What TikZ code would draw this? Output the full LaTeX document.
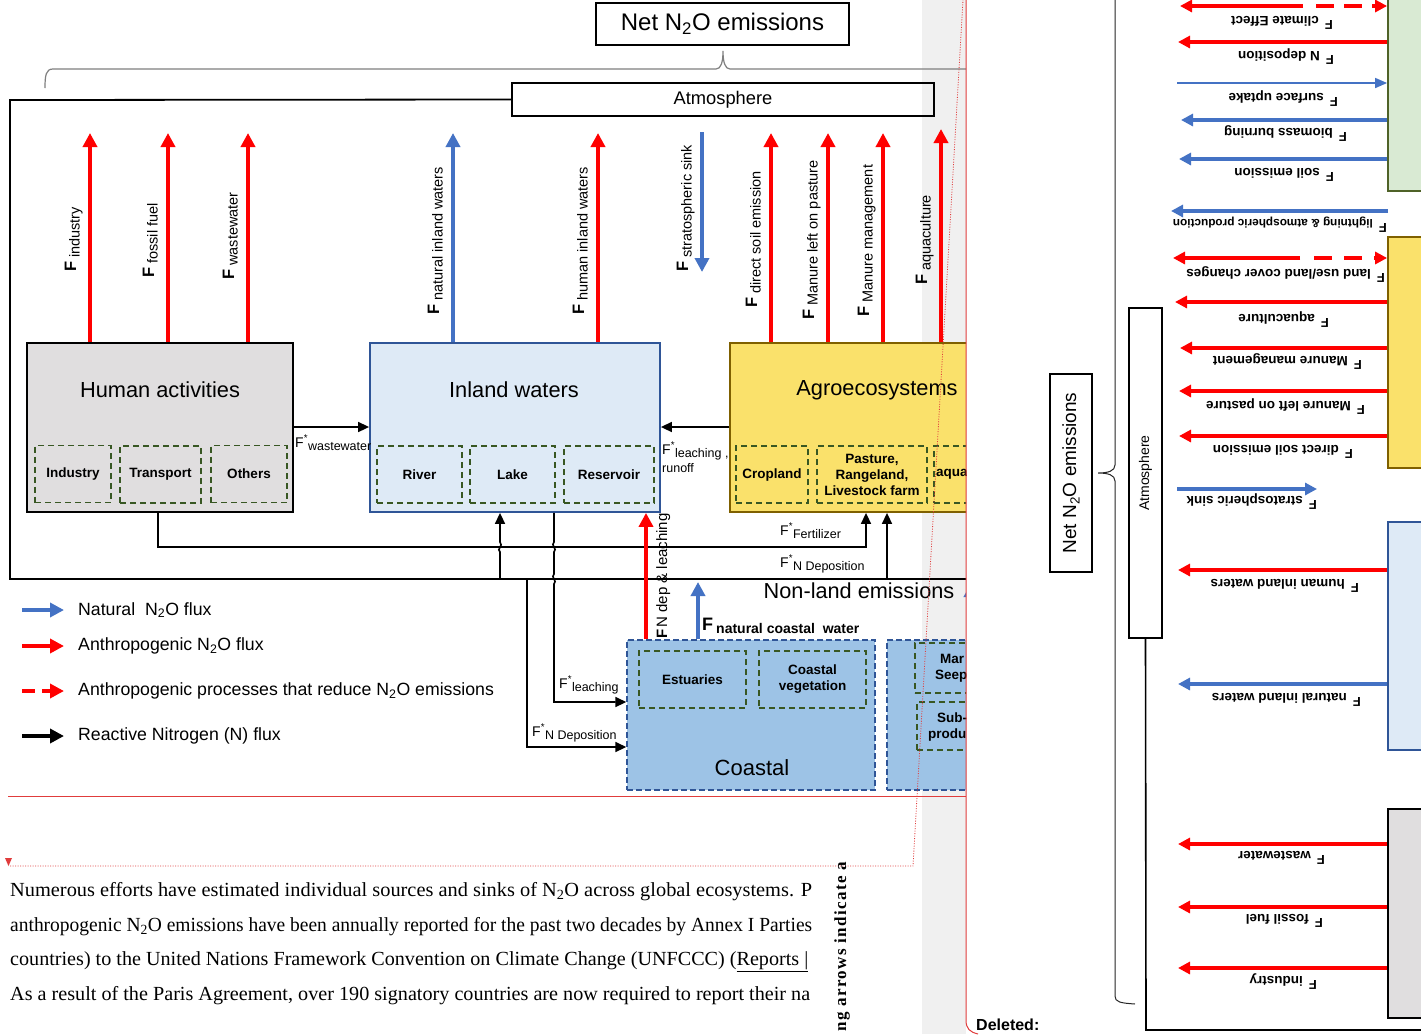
\documentclass[tikz,border=0pt]{standalone}
\usepackage{fontspec}
\setmainfont{Liberation Sans}
\newfontfamily\bodyserif{Liberation Serif}
\newfontfamily\spacedserif[LetterSpace=8]{Liberation Serif}
\usetikzlibrary{arrows.meta}
\definecolor{nred}{HTML}{FF0000}
\definecolor{nblue}{HTML}{4472C4}
\definecolor{inlandfill}{HTML}{DEEAF6}
\definecolor{inlandline}{HTML}{2F5597}
\definecolor{coastfill}{HTML}{9DC3E6}
\definecolor{agrofill}{HTML}{FAE16B}
\definecolor{agroline}{HTML}{7F6000}
\definecolor{humfill}{HTML}{E0DEDF}
\definecolor{subgreen}{HTML}{385723}
\definecolor{natfill}{HTML}{D9EAD3}
\definecolor{natline}{HTML}{4F6228}
\definecolor{bandgrey}{HTML}{F0F0F0}
\definecolor{bracegrey}{HTML}{7F7F7F}
\definecolor{trackred}{HTML}{E03C3C}
\newcommand{\fs}[2]{\fontsize{#1}{#2}\selectfont}
\newcommand{\topF}[1]{{\fs{16.5}{16.5}\bfseries F}\hspace{4pt}\raisebox{-3.5pt}{\fs{14.5}{15}#1}}
\newcommand{\rgtF}[1]{{\fs{13}{13}\bfseries F}\hspace{6pt}\raisebox{-4pt}{\fs{13.5}{14}\bfseries #1}}
\newcommand{\starF}[1]{{\fs{14}{14}F\textsuperscript{*}}\raisebox{-3pt}{\fs{12.5}{13}#1}}
\begin{document}
\begin{tikzpicture}[x=1pt,y=-1pt]
\tikzset{
  blackbox/.style={draw=black, line width=1.8pt, inner sep=0pt},
  subbox/.style={draw=subgreen, dash pattern=on 6pt off 4pt, line width=1.4pt, inner sep=0pt, font=\fs{13.5}{16}\bfseries, align=center},
  redarr/.style={draw=nred, line width=4.5pt, -{Triangle[width=14pt,length=14pt]}},
  bluearr/.style={draw=nblue, line width=4.5pt, -{Triangle[width=14pt,length=14pt]}},
  rred/.style={draw=nred, line width=4pt, -{Triangle[width=12pt,length=12pt]}},
  rblue/.style={draw=nblue, line width=4pt, -{Triangle[width=12pt,length=12pt]}},
  conn/.style={draw=black, line width=1.6pt},
  connarr/.style={conn, -{Triangle[width=10pt,length=11pt]}},
  lab/.style={inner sep=0pt},
  biglab/.style={inner sep=0pt, font=\fs{21.8}{22}},
  toplab/.style={inner sep=0pt, rotate=90, anchor=base west},
  rlab/.style={inner sep=0pt, rotate=180, anchor=base west},
  legtext/.style={inner sep=0pt, anchor=west, font=\fs{17.7}{18}},
}
\useasboundingbox (0,0) rectangle (1421,1034);
\fill[white] (0,0) rectangle (1421,1034);
\fill[bandgrey] (922,0) rectangle (966,1034);

% ================= left diagram (clipped) =================
\begin{scope}
\clip (0,0) rectangle (966,1034);
\draw[bracegrey, line width=1.2pt] (45,88) .. controls (45,75) and (46,69) .. (53,69) -- (716,69) .. controls (721,69) and (723,62) .. (723,51) .. controls (723,62) and (725,69) .. (730,69) -- (970,69);
\node[blackbox, minimum width=253pt, minimum height=42pt] (net) at (722.5,24) {\fs{24}{24}Net N\textsubscript{2}O emissions};
\node[blackbox, minimum width=422pt, minimum height=33pt] (atm) at (723,99.5) {\fs{18.3}{18}Atmosphere};
\draw[line width=1.8pt] (atm.west) -- (10,100) -- (10,579) -- (972,579);

% main boxes
\node[blackbox, fill=humfill, minimum width=266pt, minimum height=169pt] (hum) at (160,427.5) {};
\node[biglab] (humt) at (160,390) {Human activities};
\node[draw=inlandline, line width=1.8pt, fill=inlandfill, inner sep=0pt, minimum width=290pt, minimum height=169pt] (inl) at (515,427.5) {};
\node[biglab] (inlt) at (514,390) {Inland waters};
\node[draw=agroline, line width=1.8pt, fill=agrofill, inner sep=0pt, minimum width=294pt, minimum height=169pt] (agro) at (877,427.5) {};
\node[biglab] (agrot) at (877,390) {Agroecosystems};

% sub boxes
\node[subbox, minimum width=76pt, minimum height=57pt] (ind) at (73,474) {Industry};
\node[subbox, minimum width=81pt, minimum height=57pt] (tra) at (160.5,474.5) {Transport};
\node[subbox, minimum width=76pt, minimum height=57pt] (oth) at (249,474) {Others};
\node[subbox, minimum width=85pt, minimum height=57pt] (riv) at (419.5,474.5) {River};
\node[subbox, minimum width=85pt, minimum height=57pt] (lak) at (512.5,474.5) {Lake};
\node[subbox, minimum width=90pt, minimum height=57pt] (res) at (609,474.5) {Reservoir};
\node[subbox, minimum width=72pt, minimum height=57pt] (crp) at (772,474.5) {Cropland};
\node[subbox, minimum width=110pt, minimum height=57pt] (pas) at (872,474.5) {Pasture,\\Rangeland,\\Livestock farm};
\node[subbox, minimum width=84pt, minimum height=57pt] (aqb) at (976,474.5) {};
\node[lab, anchor=west, font=\fs{13.5}{16}\bfseries] (aqt) at (936,474.5) {aqua};

% top flux arrows
\draw[redarr] (90,0 |- hum.north) -- (90,133);
\draw[redarr] (168,0 |- hum.north) -- (168,133);
\draw[redarr] (248,0 |- hum.north) -- (248,133);
\draw[bluearr] (453,0 |- inl.north) -- (453,133);
\draw[redarr] (598,0 |- inl.north) -- (598,133);
\draw[bluearr] (702,132) -- (702,272);
\draw[redarr] (771,0 |- agro.north) -- (771,133);
\draw[redarr] (828,0 |- agro.north) -- (828,133);
\draw[redarr] (883,0 |- agro.north) -- (883,133);
\draw[redarr] (941,0 |- agro.north) -- (941,129);

\node[toplab] (l1) at (76,272) {\topF{industry}};
\node[toplab] (l2) at (154,278) {\topF{fossil fuel}};
\node[toplab] (l3) at (234,280) {\topF{wastewater}};
\node[toplab] (l4) at (439,315) {\topF{natural inland waters}};
\node[toplab] (l5) at (584,315) {\topF{human inland waters}};
\node[toplab] (l6) at (688,272) {\topF{stratospheric sink}};
\node[toplab] (l7) at (757,308) {\topF{direct soil emission}};
\node[toplab] (l8) at (814,320) {\topF{Manure left on pasture}};
\node[toplab] (l9) at (869,317) {\topF{Manure management}};
\node[toplab] (l10) at (927,285) {\topF{aquaculture}};

% coastal boxes
\node[draw=inlandline, dash pattern=on 6pt off 3pt, line width=1.4pt, fill=coastfill, inner sep=0pt, minimum width=248pt, minimum height=150pt] (coast) at (751,715) {};
\node[lab, font=\fs{22}{22}] (coastt) at (752,768) {Coastal};
\node[subbox, minimum width=107pt, minimum height=57pt] (est) at (692.5,679.5) {Estuaries};
\node[subbox, minimum width=107pt, minimum height=57pt] (veg) at (812.5,679.5) {Coastal\\vegetation};
\node[draw=inlandline, dash pattern=on 6pt off 3pt, line width=1.4pt, fill=coastfill, inner sep=0pt, minimum width=180pt, minimum height=150pt] (mar) at (977,715) {};
\node[subbox, minimum width=90pt, minimum height=50pt] (seep) at (960,668) {};
\node[subbox, minimum width=90pt, minimum height=48pt] (subp) at (962,726) {};
\node[lab, anchor=west, font=\fs{13.5}{16}\bfseries] (mart) at (940,659) {Mar};
\node[lab, anchor=west, font=\fs{13.5}{16}\bfseries] (seept) at (935,676) {Seep};
\node[lab, anchor=west, font=\fs{13.5}{16}\bfseries] (subt) at (937,718) {Sub-};
\node[lab, anchor=west, font=\fs{13.5}{16}\bfseries] (prodt) at (928,735) {produ};

% reactive N connectors
\draw[connarr] (hum.east |- 0,427) -- (inl.west |- 0,427);
\draw[connarr] (agro.west |- 0,427) -- (inl.east |- 0,427);
\draw[connarr] (158,0 |- hum.south) -- (158,547) -- (866,547) -- (866,0 |- agro.south);
\draw[connarr] (500,579) -- (500,552) .. controls (496,549) and (504,546) .. (500,542) -- (500,0 |- inl.south);
\draw[connarr] (554,0 |- inl.south) -- (554,542) .. controls (550,545) and (558,549) .. (554,552) -- (554,574) .. controls (550,577) and (558,581) .. (554,584) -- (554,702) -- (coast.west |- 0,702);
\draw[connarr] (527,579) -- (527,747) -- (coast.west |- 0,747);
\draw[connarr] (887,579) -- (887,0 |- agro.south);

\node[lab, anchor=base west] (fw) at (295,447) {\starF{wastewater}};
\node[lab, anchor=base west] (fl) at (662,454) {\starF{leaching ,}};
\node[lab, anchor=base west] (fr) at (662,472) {\fs{12.5}{13}runoff};
\node[lab, anchor=base west] (ff) at (780,535) {\starF{Fertilizer}};
\node[lab, anchor=base west] (fn) at (780,567) {\starF{N Deposition}};
\node[lab, anchor=base west] (fl2) at (559,688) {\starF{leaching}};
\node[lab, anchor=base west] (fn2) at (532,736) {\starF{N Deposition}};

% coastal fluxes
\draw[redarr] (646,0 |- coast.north) -- (646,0 |- inl.south);
\draw[bluearr] (698,0 |- coast.north) -- (698,582);
\draw[bluearr] (971,640) -- (971,583);
\node[toplab] (fnd) at (667,639) {{\fs{15}{15}\bfseries F}\hspace{2pt}{\fs{15}{15}N dep \& leaching}};
\node[lab, anchor=base west] (fnc) at (702,630) {{\fs{18}{18}\bfseries F}\hspace{3pt}\raisebox{-3pt}{\fs{14}{14}\bfseries natural coastal\ \ water}};
\node[lab, font=\fs{21.7}{22}] (nonland) at (859,591) {Non-land emissions};
\end{scope}

% ================= legend =================
\draw[bluearr] (22,610) -- (64,610);
\draw[redarr] (22,646) -- (64,646);
\draw[nred, line width=4.5pt] (22,691) -- (35,691);
\draw[redarr] (42,691) -- (64,691);
\draw[draw=black, line width=4.5pt, -{Triangle[width=14pt,length=14pt]}] (22,736) -- (64,736);
\node[legtext] (lg1) at (78,610) {Natural\ \ N\textsubscript{2}O flux};
\node[legtext] (lg2) at (78,646) {Anthropogenic N\textsubscript{2}O flux};
\node[legtext] (lg3) at (78,691) {Anthropogenic processes that reduce N\textsubscript{2}O emissions};
\node[legtext] (lg4) at (78,736) {Reactive Nitrogen (N) flux};

% ================= track changes marks =================
\draw[trackred, line width=1pt] (8,796) -- (966,796);
\draw[trackred, line width=0.8pt, dash pattern=on 1pt off 1.5pt] (10,866) -- (913,866) -- (963,0);
\fill[trackred] (5,858) -- (12,858) -- (8.5,866) -- cycle;
\draw[trackred, line width=1pt] (966,0) -- (966,1020) .. controls (966,1029) and (970,1032) .. (978,1034);
\node[lab, anchor=west] (del) at (976,1025) {\fs{16}{16}\bfseries Deleted:};

% ================= body text =================
\node[lab, anchor=base west] (t1) at (10,896) {\resizebox{802pt}{\height}{\bodyserif\fs{20}{20}Numerous efforts have estimated individual sources and sinks of N\textsubscript{2}O across global ecosystems. P}};
\node[lab, anchor=base west] (t2) at (10,931) {\resizebox{802pt}{\height}{\bodyserif\fs{20}{20}anthropogenic N\textsubscript{2}O emissions have been annually reported for the past two decades by Annex I Parties}};
\node[lab, anchor=base west] (t3) at (10,965) {\resizebox{798pt}{\height}{\bodyserif\fs{20}{20}countries) to the United Nations Framework Convention on Climate Change (UNFCCC) (\underline{Reports |}}};
\node[lab, anchor=base west] (t4) at (10,1000) {\resizebox{800pt}{\height}{\bodyserif\fs{20}{20}As a result of the Paris Agreement, over 190 signatory countries are now required to report their na}};
\node[lab, rotate=90, anchor=base east] (vt) at (846,862) {\spacedserif\bfseries\fs{17}{17}ng arrows indicate a};

% ================= right rotated diagram =================
\begin{scope}
\clip (966,0) rectangle (1421,1034);
\draw[black!85, line width=1pt] (1115,-5) -- (1115,465) .. controls (1115,471) and (1108,473) .. (1098,473) .. controls (1108,473) and (1115,475) .. (1115,481) -- (1115,996) .. controls (1115,1002) and (1120,1003) .. (1135,1004);
\node[blackbox, rotate=90, minimum width=198pt, minimum height=42pt] (rnet) at (1071,473) {\fs{19}{19}Net N\textsubscript{2}O emissions};
\node[blackbox, rotate=90, minimum width=330pt, minimum height=33pt] (ratm) at (1145.5,473) {\fs{14}{14}Atmosphere};
\draw[line width=1.6pt] (ratm.west) -- (1146,1030) -- (1430,1030);

\node[draw=natline, line width=1.8pt, fill=natfill, inner sep=0pt, minimum width=50pt, minimum height=196pt] (rgrn) at (1413,93) {};
\node[draw=agroline, line width=1.8pt, fill=agrofill, inner sep=0pt, minimum width=50pt, minimum height=231pt] (ryel) at (1413,352.5) {};
\node[draw=inlandline, line width=1.8pt, fill=inlandfill, inner sep=0pt, minimum width=50pt, minimum height=228pt] (rblu) at (1413,636) {};
\node[blackbox, fill=humfill, minimum width=50pt, minimum height=209pt] (rhum) at (1413,913.5) {};

% arrows of the natural box
\draw[rred] (1303,6) -- (1180,6);
\draw[nred, line width=4pt, dash pattern=on 18pt off 10pt, -{Triangle[width=12pt,length=12pt]}] (1316,6) -- (rgrn.west |- 0,6);
\draw[rred] (rgrn.west |- 0,42) -- (1178,42);
\draw[draw=nblue, line width=1.5pt, -{Triangle[width=10pt,length=12pt]}] (1177,83) -- (rgrn.west |- 0,83);
\draw[rblue] (rgrn.west |- 0,120) -- (1181,120);
\draw[rblue] (rgrn.west |- 0,159) -- (1179,159);
\draw[rblue] (1388,211) -- (1171,211);
% agro
\draw[rred] (1300,258) -- (1173,258);
\draw[nred, line width=4pt, dash pattern=on 18pt off 12pt, -{Triangle[width=12pt,length=12pt]}] (1314,258) -- (ryel.west |- 0,258);
\draw[rred] (ryel.west |- 0,302) -- (1175,302);
\draw[rred] (ryel.west |- 0,348) -- (1180,348);
\draw[rred] (ryel.west |- 0,391) -- (1179,391);
\draw[rred] (ryel.west |- 0,436) -- (1179,436);
\draw[rblue] (1177,489) -- (1317,489);
% inland
\draw[rred] (rblu.west |- 0,570) -- (1178,570);
\draw[rblue] (rblu.west |- 0,684) -- (1178,684);
% human
\draw[rred] (rhum.west |- 0,844) -- (1178,844);
\draw[rred] (rhum.west |- 0,907) -- (1178,907);
\draw[rred] (rhum.west |- 0,968) -- (1178,968);

\node[rlab] (r1) at (1333,20) {\rgtF{climate Effect}};
\node[rlab] (r2) at (1334,55) {\rgtF{N deposition}};
\node[rlab] (r3) at (1338,97) {\rgtF{surface uptake}};
\node[rlab] (r4) at (1347,132) {\rgtF{biomass burning}};
\node[rlab] (r5) at (1334,172) {\rgtF{soil emission}};
\node[rlab] (r6) at (1387,223) {{\fs{13}{13}\bfseries F}\hspace{6pt}\raisebox{-4pt}{\fs{11.8}{12}\bfseries lightning \& atmospheric production}};
\node[rlab] (r7) at (1385,273) {\rgtF{land use/land cover changes}};
\node[rlab] (r8) at (1329,318) {\rgtF{aquaculture}};
\node[rlab] (r9) at (1362,360) {\rgtF{Manure management}};
\node[rlab] (r10) at (1365,405) {\rgtF{Manure left on pasture}};
\node[rlab] (r11) at (1353,449) {\rgtF{direct soil emission}};
\node[rlab] (r12) at (1317,500) {\rgtF{stratospheric sink}};
\node[rlab] (r13) at (1359,583) {\rgtF{human inland waters}};
\node[rlab] (r14) at (1361,697) {\rgtF{natural inland waters}};
\node[rlab] (r15) at (1325,855) {\rgtF{wastewater}};
\node[rlab] (r16) at (1323,918) {\rgtF{fossil fuel}};
\node[rlab] (r17) at (1317,980) {\rgtF{industry}};
\end{scope}
\end{tikzpicture}
\end{document}
